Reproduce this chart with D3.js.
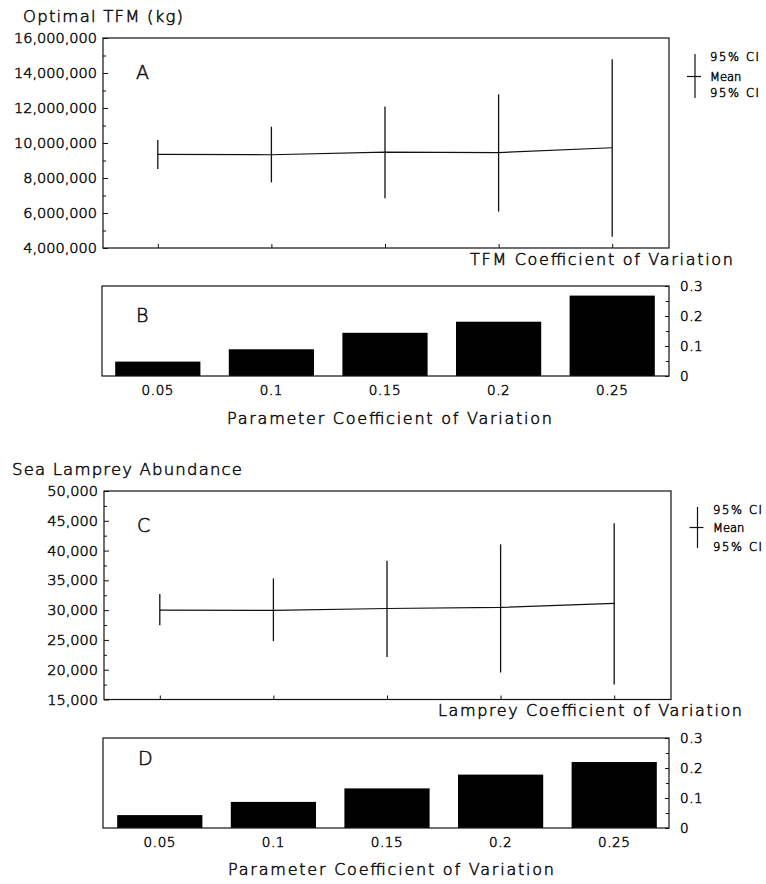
<!DOCTYPE html>
<html>
<head>
<meta charset="utf-8">
<script src="https://cdn.jsdelivr.net/npm/d3@7"></script>
<style>
  html, body { margin: 0; padding: 0; background: #fff; }
  svg { display: block; }
</style>
</head>
<body>
<div id="chart"></div>
<script>
// ---- data ----
const cvLevels = ["0.05", "0.1", "0.15", "0.2", "0.25"];

// Optimal TFM (kg): mean and 95% confidence limits
const tfmMean  = [9350000, 9330000, 9480000, 9450000, 9730000];
const tfmLower = [8510000, 7750000, 6840000, 6080000, 4650000];
const tfmUpper = [10170000, 10930000, 12080000, 12780000, 14780000];
// coefficient of variation of optimal TFM
const tfmCV    = [0.048, 0.089, 0.144, 0.181, 0.268];

// Sea lamprey abundance: mean and 95% confidence limits
const lampMean  = [30000, 29950, 30280, 30450, 31130];
const lampLower = [27480, 24790, 22150, 19530, 17510];
const lampUpper = [32690, 35330, 38290, 41040, 44570];
// coefficient of variation of lamprey abundance
const lampCV    = [0.043, 0.087, 0.132, 0.178, 0.220];

// axis ticks
const tfmTicks       = [4000000, 6000000, 8000000, 10000000, 12000000, 14000000, 16000000];
const tfmMinorTicks  = [5000000, 7000000, 9000000, 11000000, 13000000, 15000000];
const lampTicks      = [15000, 20000, 25000, 30000, 35000, 40000, 45000, 50000];
const lampMinorTicks = [17500, 22500, 27500, 32500, 37500, 42500, 47500];
const cvTicks        = [0, 0.1, 0.2, 0.3];
const cvTickLabels   = ["0", "0.1", "0.2", "0.3"];
const cvMinorTicks   = [0.05, 0.15, 0.25];
const legendLabels   = ["95% CI", "Mean", "95% CI"];

// ---- drawing ----
const W = 766, H = 884;
const FONT = "'DejaVu Sans', 'Liberation Sans', sans-serif";
const INK = "#111";
const TEXT = "#111";
const TEXT_STROKE = 0.55;   // thickens the light face to a plotter-pen line

const svg = d3.select("#chart").append("svg")
  .attr("width", W).attr("height", H)
  .attr("font-family", FONT).attr("font-weight", 200);
svg.append("rect").attr("width", W).attr("height", H).attr("fill", "#fff");

function inkText(sel) {
  sel.attr("fill", TEXT).attr("stroke", TEXT).attr("stroke-width", TEXT_STROKE);
}

// text whose vertical position is the centre of its capitals
function label(g, s, x, y, size, len) {
  const t = g.append("text")
    .attr("x", x).attr("y", y).attr("dy", "0.36em")
    .attr("font-size", size)
    .text(s)
    .call(inkText);
  if (len) t.attr("textLength", len).attr("lengthAdjust", "spacing");
  return t;
}

function styleAxis(g, size, spacing) {
  g.attr("font-family", FONT).attr("font-size", size);
  g.select(".domain").remove();
  g.selectAll(".tick line").attr("stroke", INK).attr("stroke-width", 1);
  g.selectAll(".tick text").call(inkText)
    .attr("letter-spacing", spacing || 0);
}

function frame(g, f) {
  g.append("rect")
    .attr("x", f.x0).attr("y", f.y0)
    .attr("width", f.x1 - f.x0).attr("height", f.y1 - f.y0)
    .attr("fill", "none").attr("stroke", INK).attr("stroke-width", 1.2);
}

// panel with mean line and 95% CI bars
function ciPanel(p) {
  const g = svg.append("g");
  const x = d3.scalePoint().domain(cvLevels).range(p.xRange).padding(0.5);
  const y = d3.scaleLinear().domain(p.domain).range([p.f.y1, p.f.y0]);

  // left axis: major and minor ticks, pointing inward
  const ax = g.append("g").attr("transform", `translate(${p.f.x0},0)`)
    .call(d3.axisLeft(y).tickValues(p.ticks).tickFormat(d3.format(","))
      .tickSizeInner(-5).tickSizeOuter(0).tickPadding(6));
  styleAxis(ax, 14.5);
  const axm = g.append("g").attr("transform", `translate(${p.f.x0},0)`)
    .call(d3.axisLeft(y).tickValues(p.minor).tickFormat("")
      .tickSizeInner(-3).tickSizeOuter(0));
  styleAxis(axm, 14.5);

  // bottom category ticks, pointing inward
  const bx = g.append("g").attr("transform", `translate(0,${p.f.y1})`)
    .call(d3.axisBottom(x).tickFormat("").tickSizeInner(-4).tickSizeOuter(0));
  styleAxis(bx, 12);

  frame(g, p.f);

  const rows = cvLevels.map((c, i) => ({ c, m: p.mean[i], lo: p.lower[i], hi: p.upper[i] }));

  g.append("path").datum(rows)
    .attr("fill", "none").attr("stroke", INK).attr("stroke-width", 1.2)
    .attr("d", d3.line().x(d => x(d.c)).y(d => y(d.m)));

  g.selectAll(".ci").data(rows).join("line")
    .attr("class", "ci")
    .attr("x1", d => x(d.c)).attr("x2", d => x(d.c))
    .attr("y1", d => y(d.lo)).attr("y2", d => y(d.hi))
    .attr("stroke", INK).attr("stroke-width", 1.3);

  label(g, p.letter, p.letterPos[0], p.letterPos[1], 19);
  label(g, p.title, p.titlePos[0], p.titlePos[1], 16.5, p.titlePos[2]);
  label(g, p.xTitle, p.xTitlePos[0], p.xTitlePos[1], 16, p.xTitlePos[2]);

  // legend glyph: CI line with mean tick
  const L = p.legend;
  g.append("line").attr("x1", L.x).attr("x2", L.x).attr("y1", L.y0).attr("y2", L.y1)
    .attr("stroke", INK).attr("stroke-width", 1.2);
  g.append("line").attr("x1", L.x - 8).attr("x2", L.x + 6)
    .attr("y1", L.ym).attr("y2", L.ym)
    .attr("stroke", INK).attr("stroke-width", 1.2);
  legendLabels.forEach((s, i) => {
    label(g, s, L.tx, L.ty[i], 11.5, s === "Mean" ? null : 49);
  });
}

// panel with coefficient-of-variation bars
function cvPanel(p) {
  const g = svg.append("g");
  const x = d3.scaleBand().domain(cvLevels).range(p.xRange)
    .paddingInner(0.25).paddingOuter(0.125);
  const y = d3.scaleLinear().domain([0, 0.3]).range([p.f.y1, p.f.y0]);

  g.selectAll(".bar").data(cvLevels.map((c, i) => ({ c, v: p.values[i] }))).join("rect")
    .attr("class", "bar")
    .attr("x", d => x(d.c)).attr("width", x.bandwidth())
    .attr("y", d => y(d.v)).attr("height", d => y(0) - y(d.v))
    .attr("fill", "#000");

  // right axis, ticks pointing inward
  const ar = g.append("g").attr("transform", `translate(${p.f.x1},0)`)
    .call(d3.axisRight(y).tickValues(cvTicks).tickFormat((d, i) => cvTickLabels[i])
      .tickSizeInner(-4).tickSizeOuter(0).tickPadding(11));
  styleAxis(ar, 13.5, 0.6);
  const arm = g.append("g").attr("transform", `translate(${p.f.x1},0)`)
    .call(d3.axisRight(y).tickValues(cvMinorTicks).tickFormat("")
      .tickSizeInner(-3).tickSizeOuter(0));
  styleAxis(arm, 13.5);

  // category labels under the bars
  const ab = g.append("g").attr("transform", `translate(0,${p.f.y1})`)
    .call(d3.axisBottom(x).tickSize(0).tickPadding(9));
  styleAxis(ab, 13.5, 0.6);

  frame(g, p.f);

  label(g, p.letter, p.letterPos[0], p.letterPos[1], 19);
  label(g, p.xTitle, p.xTitlePos[0], p.xTitlePos[1], 16, p.xTitlePos[2]);
}

ciPanel({
  f: { x0: 103, x1: 669, y0: 38, y1: 248 },
  xRange: [101, 669],
  domain: [4000000, 16000000], ticks: tfmTicks, minor: tfmMinorTicks,
  mean: tfmMean, lower: tfmLower, upper: tfmUpper,
  letter: "A", letterPos: [136, 72],
  title: "Optimal TFM (kg)", titlePos: [23, 16.5, 160],
  xTitle: "TFM Coefficient of Variation", xTitlePos: [470, 259.5, 263],
  legend: { x: 695, y0: 54, y1: 98, ym: 76.5, tx: 710, ty: [56.5, 76.5, 93] }
});

cvPanel({
  f: { x0: 102, x1: 669, y0: 286, y1: 376 },
  xRange: [101, 669],
  values: tfmCV,
  letter: "B", letterPos: [136, 315],
  xTitle: "Parameter Coefficient of Variation", xTitlePos: [227, 418, 325]
});

ciPanel({
  f: { x0: 104, x1: 671, y0: 491, y1: 699.5 },
  xRange: [103, 671],
  domain: [15000, 50000], ticks: lampTicks, minor: lampMinorTicks,
  mean: lampMean, lower: lampLower, upper: lampUpper,
  letter: "C", letterPos: [137, 525],
  title: "Sea Lamprey Abundance", titlePos: [12, 469, 230],
  xTitle: "Lamprey Coefficient of Variation", xTitlePos: [438, 710, 304],
  legend: { x: 697.5, y0: 507, y1: 548, ym: 527.5, tx: 713, ty: [510, 528, 547] }
});

cvPanel({
  f: { x0: 103, x1: 669, y0: 738, y1: 828 },
  xRange: [103, 671],
  values: lampCV,
  letter: "D", letterPos: [138, 758],
  xTitle: "Parameter Coefficient of Variation", xTitlePos: [228, 869, 326]
});
</script>
</body>
</html>
